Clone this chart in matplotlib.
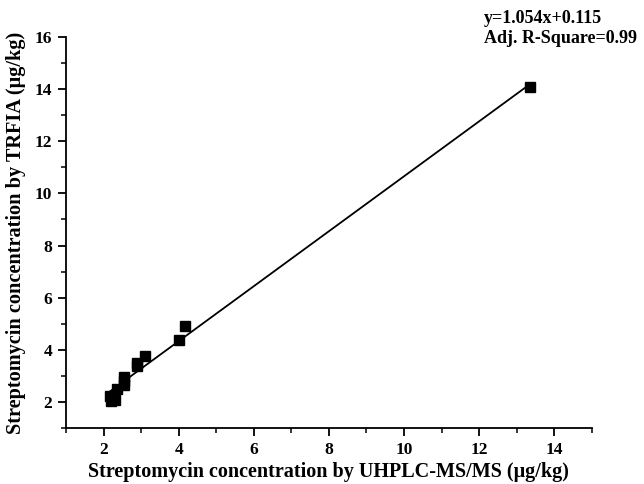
import numpy as np
import matplotlib
matplotlib.use('Agg')
import matplotlib.pyplot as plt
from matplotlib.ticker import MultipleLocator

# data
uhplc = [2.18, 2.20, 2.30, 2.37, 2.55, 2.55, 2.55, 2.90, 2.90, 3.10, 4.00, 4.18, 13.36]
trfia = [2.22, 2.05, 2.08, 2.48, 2.95, 2.80, 2.65, 3.50, 3.38, 3.77, 4.38, 4.93, 14.08]
slope = 1.054
intercept = 0.115
fit_text = ['y=1.054x+0.115', 'Adj. R-Square=0.99']

plt.rcParams['font.family'] = ['Liberation Serif', 'DejaVu Serif']
plt.rcParams['font.weight'] = 'bold'


def main():
    fig = plt.figure(figsize=(6.44, 4.84), dpi=100)
    ax = fig.add_axes([0.1025, 0.1157, 0.8165, 0.808])

    xs = np.array([min(uhplc), max(uhplc)])
    ax.plot(xs, slope * xs + intercept, color='black', lw=1.3, zorder=2)
    ax.plot(uhplc, trfia, ls='none', marker='s', ms=7, color='black', zorder=3)

    ax.set_xlim(1, 15)
    ax.set_ylim(1, 16)
    ax.xaxis.set_minor_locator(MultipleLocator(1))
    ax.yaxis.set_minor_locator(MultipleLocator(1))
    ax.set_xticks(np.arange(2, 15, 2))
    ax.set_yticks(np.arange(2, 17, 2))

    for side in ['top', 'right']:
        ax.spines[side].set_visible(False)
    for side in ['left', 'bottom']:
        ax.spines[side].set_linewidth(1.3)
    ax.tick_params(which='major', direction='out', length=6, width=1.3, labelsize=12.5, pad=4)
    ax.tick_params(which='minor', direction='out', length=3.5, width=1.1)
    for lab in ax.get_xticklabels() + ax.get_yticklabels():
        lab.set_fontweight('bold')

    ax.set_xlabel('Streptomycin concentration by UHPLC-MS/MS (μg/kg)',
                  fontsize=14.5, fontweight='bold', labelpad=3)
    ax.set_ylabel('Streptomycin concentration by TRFIA (μg/kg)',
                  fontsize=14.6, fontweight='bold', labelpad=6)

    fig.text(0.752, 0.979, '\n'.join(fit_text), ha='left', va='top',
             fontsize=13, fontweight='bold', linespacing=1.2)

    fig.savefig('out.png', dpi=100)
    plt.close(fig)


if __name__ == '__main__':
    main()
